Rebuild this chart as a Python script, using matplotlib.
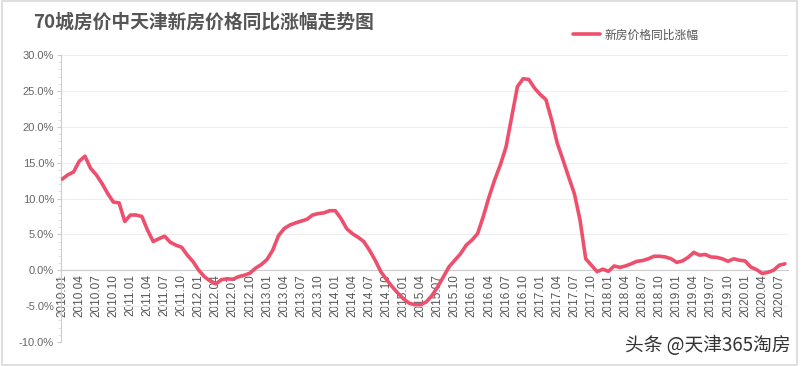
import matplotlib
matplotlib.use("Agg")
import matplotlib.pyplot as plt
from matplotlib.patches import Rectangle
import numpy as np

plt.rcParams['font.family'] = ['Noto Sans CJK SC', 'DejaVu Sans']

# monthly data, 2010.01 .. 2020.08
years = list(range(2010, 2021))
months = ["%d.%02d" % (y, m) for y in years for m in range(1, 13)][:128]

yoy = [
    12.7, 13.3, 13.7, 15.2, 15.9, 14.2, 13.3, 12.1, 10.7, 9.5, 9.4, 6.8,    # 2010
    7.7, 7.7, 7.5, 5.6, 4.0, 4.4, 4.75, 3.9, 3.5, 3.2, 2.1, 1.2,            # 2011
    0.0, -0.9, -1.5, -1.9, -1.3, -1.2, -1.25, -0.9, -0.7, -0.4, 0.3, 0.8,   # 2012
    1.5, 2.8, 4.8, 5.8, 6.3, 6.6, 6.85, 7.1, 7.7, 7.9, 8.0, 8.3,            # 2013
    8.3, 7.2, 5.8, 5.1, 4.6, 4.0, 2.8, 1.4, -0.2, -1.3, -2.3, -3.2,         # 2014
    -4.0, -4.6, -4.8, -4.8, -4.4, -3.5, -2.3, -0.9, 0.5, 1.4, 2.3, 3.5,     # 2015
    4.2, 5.1, 7.5, 10.2, 12.6, 14.7, 17.2, 21.4, 25.6, 26.7, 26.6, 25.4,    # 2016
    24.5, 23.8, 21.0, 17.7, 15.4, 13.0, 10.7, 7.0, 1.6, 0.7, -0.2, 0.15,    # 2017
    -0.15, 0.6, 0.4, 0.6, 0.9, 1.25, 1.35, 1.6, 1.95, 1.95, 1.85, 1.6,      # 2018
    1.1, 1.3, 1.8, 2.5, 2.1, 2.2, 1.85, 1.8, 1.6, 1.25, 1.6, 1.4,           # 2019
    1.3, 0.45, 0.1, -0.45, -0.3, 0.0, 0.7, 0.9,                             # 2020
]

series_name = "新房价格同比涨幅"
title = "70城房价中天津新房价格同比涨幅走势图"
yticks = [-10, -5, 0, 5, 10, 15, 20, 25, 30]

fig = plt.figure(figsize=(8.03, 3.66), dpi=100)
fig.patch.set_facecolor("white")
# outer frame
fig.patches.append(Rectangle((0.003, 0.003), 0.99, 0.994, transform=fig.transFigure,
                             fill=False, edgecolor="#d9d9d9", linewidth=1.2))

ax = fig.add_axes([0.076, 0.0656, 0.905, 0.784])
# spine position first: it resets the tick objects
for s in ["top", "right"]:
    ax.spines[s].set_visible(False)
ax.spines["left"].set_color("#cccccc")
ax.spines["bottom"].set_position(("data", 0))
ax.spines["bottom"].set_color("#cccccc")

x = np.arange(len(yoy))
ax.plot(x, yoy, color="#ee4f6d", linewidth=2.6, solid_joinstyle="round",
        solid_capstyle="round", label=series_name, zorder=3)

ax.set_xlim(-0.2, 127.5)
ax.set_ylim(-10, 30)
ax.set_yticks(yticks)
ax.set_yticklabels(["%.1f%%" % v for v in yticks], fontsize=8, color="#666666",
                   family="Liberation Sans")
ax.set_yticks(np.arange(-10, 31, 1), minor=True)
ax.tick_params(axis="y", which="major", length=3, color="#cccccc", pad=2)
ax.tick_params(axis="y", which="minor", length=2, color="#dddddd")
ax.grid(axis="y", color="#eeeeee", linewidth=0.8, zorder=0)

ax.set_xticks(x[::3])
ax.set_xticklabels(months[::3], fontsize=8.5, color="#555555", family="Liberation Sans")
ax.tick_params(axis="x", length=0, pad=3, labelrotation=90)

fig.text(0.041, 0.94, title, fontsize=13.5, fontweight="bold", color="#555555",
         ha="left", va="center")

ax.legend(loc="upper left", bbox_to_anchor=(0.69, 1.13), frameon=False,
          fontsize=8.5, labelcolor="#555555", handlelength=2.3, handletextpad=0.4)

fig.text(0.985, 0.055, "头条 @天津365淘房", fontsize=13.5, color="#333333",
         ha="right", va="center")

fig.savefig("out.png", dpi=100)
